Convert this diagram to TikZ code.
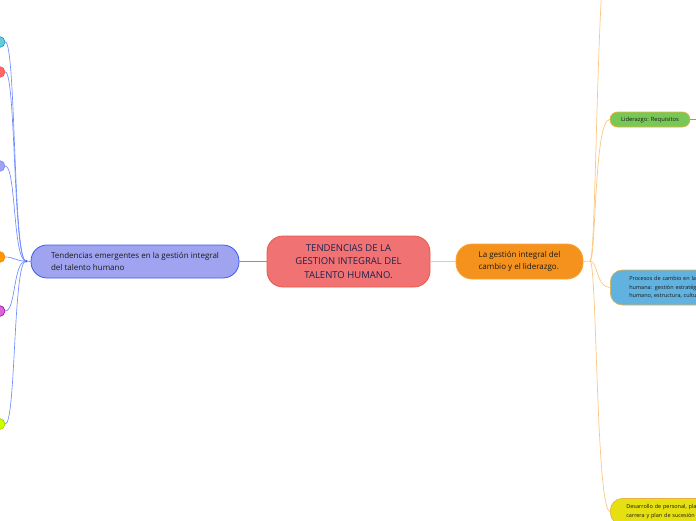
\documentclass[tikz,border=0pt]{standalone}
\usepackage{fontspec}
\setmainfont{Open Sans}
\definecolor{cfill}{HTML}{F07272}
\definecolor{cborder}{HTML}{E8584A}
\definecolor{ctext}{HTML}{1C2250}
\definecolor{lfill}{HTML}{A0A4F0}
\definecolor{lborder}{HTML}{3C5CF0}
\definecolor{lline}{HTML}{6E8CFF}
\definecolor{ofill}{HTML}{F5921E}
\definecolor{oborder}{HTML}{F6A43A}
\definecolor{oline}{HTML}{F9C880}
\definecolor{gfill}{HTML}{78C858}
\definecolor{bfill}{HTML}{62B2E0}
\definecolor{yfill}{HTML}{E6E010}
\definecolor{gold}{HTML}{E8B040}
\tikzset{
  mainbox/.style={draw=cborder, fill=cfill, line width=0.8pt, rounded corners=16pt, minimum width=163pt, minimum height=51pt, align=center, text=ctext, font=\fontsize{9.5}{13.5}\selectfont, inner sep=0pt},
  leftbox/.style={draw=lborder, fill=lfill, line width=0.8pt, rounded corners=16pt, minimum width=208pt, minimum height=33pt, align=left, text=black!90, font=\fontsize{8}{12.5}\selectfont, inner sep=0pt},
  rightbox/.style={draw=oborder, fill=ofill, line width=0.8pt, rounded corners=16pt, minimum width=127pt, minimum height=35pt, align=left, text=black!90, font=\fontsize{8}{12.5}\selectfont, inner sep=0pt},
  subbox/.style={draw=gold, line width=0.7pt, align=left, text=black!90, inner sep=0pt},
  leaf/.style={circle, minimum size=11pt, inner sep=0pt, line width=0.6pt},
  lconn/.style={draw=lline, line width=0.65pt},
  oconn/.style={draw=oline, line width=0.7pt},
}
\begin{document}
\begin{tikzpicture}[x=1pt,y=-1pt]
\useasboundingbox (0,0) rectangle (696,520);
\clip (0,0) rectangle (696,520);
\node[mainbox] (main) at (348.5,261.5) {TENDENCIAS DE LA\\GESTION INTEGRAL DEL\\TALENTO HUMANO.};
\node[leftbox] (left) at (135,261.5) {Tendencias emergentes en la gestión integral\\del talento humano};
\node[rightbox] (right) at (519.5,261.5) {La gestión integral del\\cambio y el liderazgo.};
\draw[draw=lline, line width=0.8pt] (left.east) -- (main.west);
\draw[draw=oline, line width=0.9pt] (main.east) -- (right.west);
% left hub and leaves
\coordinate (lhub) at (26,261);
\draw[lconn, line width=0.8pt] (left.west) -- (lhub);
\fill[lborder] (lhub) circle (1.5pt);
\node[leaf, fill=cyan!70!green!60, draw=cyan!80!blue] (l1) at (-0.5,42) {};
\node[leaf, fill=red!60!white, draw=red!70] (l2) at (-0.5,72) {};
\node[leaf, fill=lfill, draw=lborder!70] (l3) at (-0.5,166) {};
\node[leaf, fill=orange!80!yellow, draw=orange] (l4) at (-0.5,257) {};
\node[leaf, fill=violet!50!magenta!60, draw=violet!70!magenta] (l5) at (-0.5,311) {};
\node[leaf, fill=lime!80!yellow, draw=lime!80!black] (l6) at (-0.5,424) {};
\foreach \n/\y in {l1/42,l2/72,l3/166,l6/424}{
  \draw[lconn] (lhub) .. controls (13,261) and (16,\y) .. (\n.east);
}
\draw[lconn] (lhub) .. controls (15,261) and (14,257) .. (l4.east);
\draw[lconn] (lhub) .. controls (13,261) and (16,311) .. (l5.east);
% right hub and branches
\coordinate (rhub) at (590,261);
\draw[oconn] (right.east) -- (rhub);
\coordinate (top) at (612,-80);
\node[subbox, fill=gfill, rounded corners=7.5pt, minimum width=80pt, minimum height=15pt, font=\fontsize{5.8}{7}\selectfont, align=center] (lid) at (650,119.5) {Liderazgo: Requisitos};
\node[subbox, fill=bfill, rounded corners=12pt, minimum height=35pt, minimum width=140pt, anchor=west, font=\fontsize{5.5}{8.5}\selectfont, inner xsep=19pt, text width=110pt] (proc) at (610,287.5) {Procesos de cambio en la gestión\\humana: gestión estratégica del talento\\humano, estructura, cultura};
\node[subbox, fill=yfill, rounded corners=12pt, minimum height=26pt, minimum width=140pt, anchor=west, font=\fontsize{5.5}{8.5}\selectfont, inner xsep=16pt, text width=110pt] (des) at (610,511.5) {Desarrollo de personal, plan de\\carrera y plan de sucesión};
\draw[oconn] (rhub) .. controls (597,261) and (596,-80) .. (top);
\draw[oconn] (rhub) .. controls (596,261) and (594,119) .. (lid.west);
\draw[oconn] (rhub) .. controls (598,261) and (596,287.5) .. (proc.west);
\draw[oconn] (rhub) .. controls (597,261) and (596,511.5) .. (des.west);
\coordinate (lidend) at (700,119.5);
\draw[draw=orange, line width=1pt] (lid.east) -- (lidend);
\end{tikzpicture}
\end{document}
